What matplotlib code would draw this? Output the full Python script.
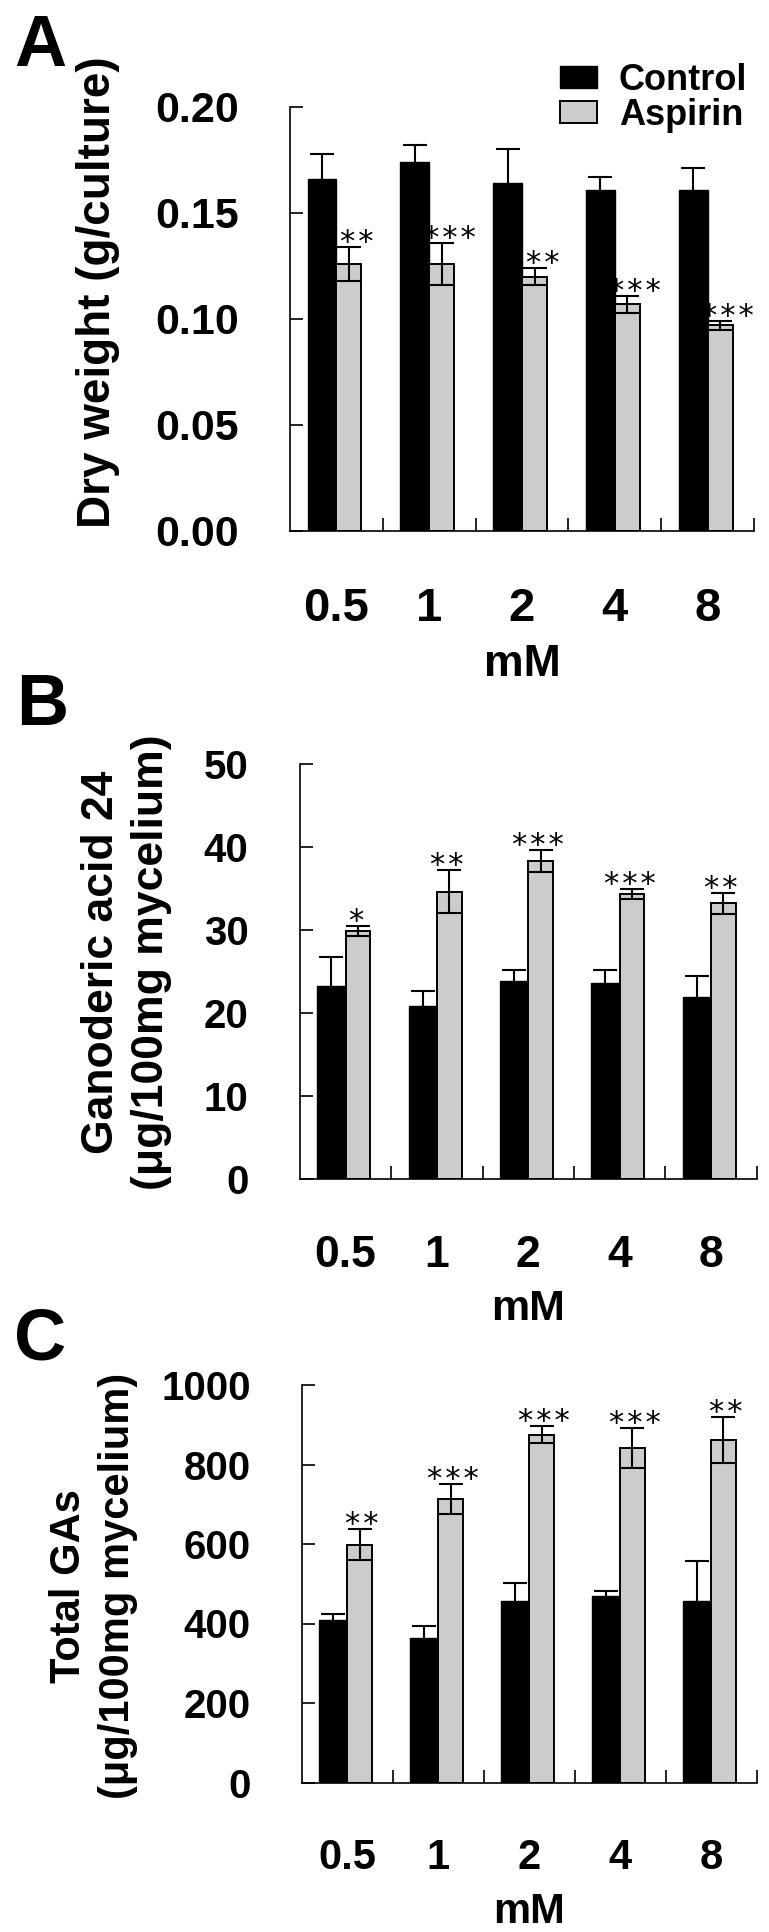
import matplotlib
matplotlib.use('Agg')
import matplotlib.pyplot as plt
import numpy as np

plt.rcParams['font.family'] = ['Liberation Sans', 'DejaVu Sans']
plt.rcParams['font.weight'] = 'bold'
plt.rcParams['axes.labelweight'] = 'bold'

doses = ['0.5', '1', '2', '4', '8']

# A - dry weight (g/culture)
dryControl = [0.166, 0.174, 0.164, 0.161, 0.161]
dryControlErr = [0.012, 0.008, 0.016, 0.006, 0.010]
dryAspirin = [0.126, 0.126, 0.120, 0.107, 0.097]
dryAspirinErr = [0.008, 0.010, 0.004, 0.004, 0.002]
dryStars = ['**', '***', '**', '***', '***']
dryTicks = [0.00, 0.05, 0.10, 0.15, 0.20]

# B - ganoderic acid 24 (ug/100mg mycelium)
ga24Control = [23.3, 20.9, 23.9, 23.6, 21.9]
ga24ControlErr = [3.5, 1.7, 1.3, 1.6, 2.6]
ga24Aspirin = [29.9, 34.6, 38.3, 34.3, 33.2]
ga24AspirinErr = [0.6, 2.6, 1.3, 0.6, 1.3]
ga24Stars = ['*', '**', '***', '***', '**']
ga24Ticks = [0, 10, 20, 30, 40, 50]

# C - total GAs (ug/100mg mycelium)
totalControl = [410, 363, 457, 470, 457]
totalControlErr = [13, 31, 46, 13, 100]
totalAspirin = [598, 713, 875, 841, 862]
totalAspirinErr = [39, 38, 22, 50, 57]
totalStars = ['**', '***', '***', '***', '**']
totalTicks = [0, 200, 400, 600, 800, 1000]

GRAY = '#cccccc'
W, H = 769, 1932


def drawPanel(rect, control, controlErr, aspirin, aspirinErr, stars, starShift, yticks, fmt,
              ylabel, ylabelPos, ytickSize, xtickSize, mmSize, ylabelSize):
    ax = fig.add_axes(rect)
    x = np.arange(len(doses)) + 0.5
    ax.bar(x, control, width=-0.31, align='edge', color='black', edgecolor='black',
           linewidth=1.0, label='Control')
    ax.bar(x, aspirin, width=0.27, align='edge', color=GRAY, edgecolor='black',
           linewidth=1.4, label='Aspirin')
    ax.errorbar(x - 0.155, control, yerr=controlErr, fmt='none', ecolor='black',
                elinewidth=1.5, capsize=8.5, capthick=1.5)
    ax.errorbar(x + 0.135, aspirin, yerr=aspirinErr, fmt='none', ecolor='black',
                elinewidth=1.5, capsize=8.5, capthick=1.5)
    for i in range(len(doses)):
        ax.annotate('\u200a'.join(stars[i]), (x[i] + starShift, aspirin[i] + aspirinErr[i]),
                    xytext=(0, -3), textcoords='offset points', ha='center', va='baseline',
                    fontsize=22, fontweight='normal', family='DejaVu Sans')

    ax.set_xlim(0, len(doses))
    ax.set_ylim(yticks[0], yticks[-1])
    ax.set_yticks(yticks)
    ax.set_yticklabels([fmt % t for t in yticks])
    ax.set_xticks(x)
    ax.set_xticklabels(doses)
    ax.set_xticks(np.arange(1, len(doses) + 1), minor=True)
    ax.spines['top'].set_visible(False)
    ax.spines['right'].set_visible(False)
    ax.spines['left'].set_linewidth(1.2)
    ax.spines['bottom'].set_linewidth(1.2)
    ax.tick_params(axis='y', direction='in', length=9.4, width=1.2, pad=37, labelsize=ytickSize)
    ax.tick_params(axis='x', which='major', length=0, pad=40, labelsize=xtickSize)
    ax.tick_params(axis='x', which='minor', direction='in', length=9.4, width=1.2)
    ax.set_xlabel('mM', fontsize=mmSize, fontweight='bold', labelpad=10)
    ax.set_ylabel(ylabel, fontsize=ylabelSize, fontweight='bold', linespacing=1.3)
    ax.yaxis.set_label_coords(*ylabelPos)
    return ax


fig = plt.figure(figsize=(W / 100, H / 100), dpi=100)

axA = drawPanel([290 / W, 1 - 531 / H, 464 / W, 424 / H], dryControl, dryControlErr,
                dryAspirin, dryAspirinErr, dryStars, 0.22, dryTicks, '%.2f',
                'Dry weight (g/culture)', (-0.366, 0.5625), 31, 34, 32, 33)
axB = drawPanel([300 / W, 1 - 1179 / H, 456.5 / W, 415 / H], ga24Control, ga24ControlErr,
                ga24Aspirin, ga24AspirinErr, ga24Stars, 0.11, ga24Ticks, '%d',
                'Ganoderic acid 24\n(\u03bcg/100mg mycelium)', (-0.280, 0.522), 29, 32, 31, 32)
axC = drawPanel([302 / W, 1 - 1782.5 / H, 454.5 / W, 397.5 / H], totalControl, totalControlErr,
                totalAspirin, totalAspirinErr, totalStars, 0.16, totalTicks, '%d',
                'Total GAs\n(\u03bcg/100mg mycelium)', (-0.361, 0.495), 29, 30, 30, 30)

axA.legend(loc='upper left', bbox_to_anchor=(0.582, 1.104), frameon=False, fontsize=26,
           handlelength=1.03, handleheight=0.56, handletextpad=0.6, labelspacing=0.0,
           borderpad=0, borderaxespad=0)

fig.text(14 / W, 1 - 13 / H, 'A', fontsize=52, fontweight='bold', va='top', ha='left')
fig.text(16 / W, 1 - 672 / H, 'B', fontsize=52, fontweight='bold', va='top', ha='left')
fig.text(14 / W, 1 - 1307 / H, 'C', fontsize=52, fontweight='bold', va='top', ha='left')

fig.savefig('out.png', dpi=100)
